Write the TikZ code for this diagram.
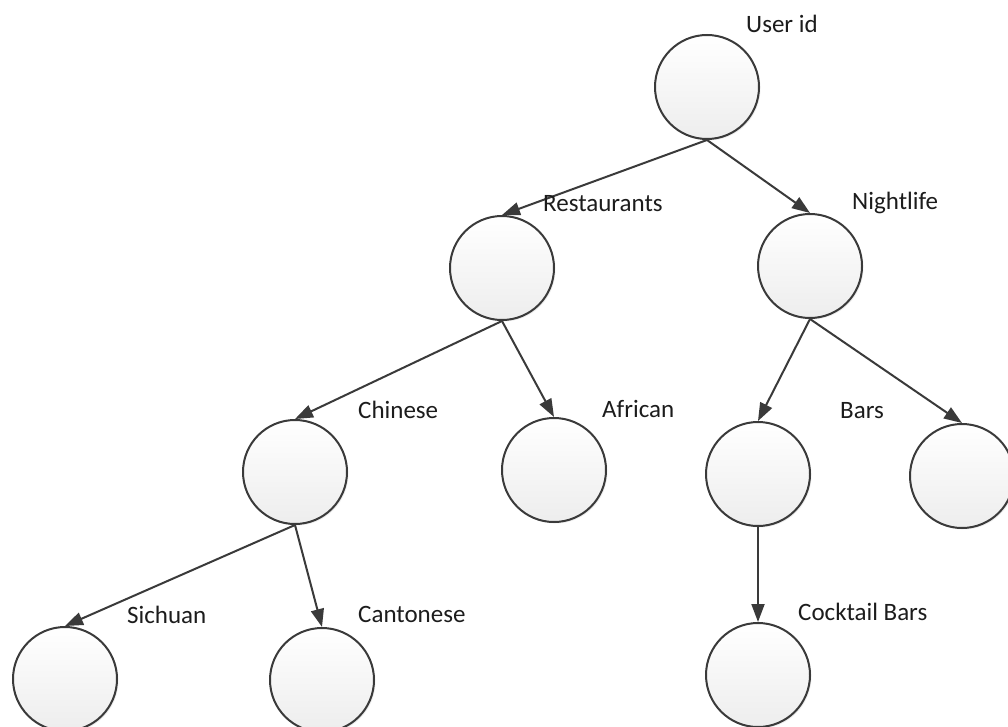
\documentclass[tikz,border=0pt]{standalone}
\usepackage{fontspec}
\setmainfont{Carlito}
\usetikzlibrary{arrows.meta,shadows}
\definecolor{lc}{HTML}{3A3A3A}
\definecolor{tc}{HTML}{1C1C1C}
\begin{document}
\begin{tikzpicture}[x=1pt,y=-1pt,
  nd/.style={circle,minimum size=104pt,inner sep=0pt,draw=lc,line width=2pt,top color=white,bottom color=gray!14,drop shadow={shadow xshift=1.5pt,shadow yshift=-1.5pt,opacity=0.15}},
  lbl/.style={anchor=base west,inner sep=0pt,font=\fontsize{25}{28}\selectfont,text=tc},
  ar/.style={draw=lc,line width=2pt,-{Triangle[length=18pt,width=13pt]}}]
\useasboundingbox (0,0) rectangle (1008,727);
\node[nd] (U) at (707,87) {};
\node[nd] (R) at (502,268) {};
\node[nd] (N) at (810,266) {};
\node[nd] (C) at (295,472) {};
\node[nd] (A) at (554,470) {};
\node[nd] (B) at (758,474) {};
\node[nd] (X) at (962,476) {};
\node[nd] (S) at (65,679) {};
\node[nd] (Ca) at (322,680) {};
\node[nd] (CB) at (758,675) {};
\draw[ar] (U.south) -- (R.north);
\draw[ar] (U.south) -- (N.north);
\draw[ar] (R.south) -- (C.north);
\draw[ar] (R.south) -- (A.north);
\draw[ar] (N.south) -- (B.north);
\draw[ar] (N.south) -- (X.north);
\draw[ar] (C.south) -- (S.north);
\draw[ar] (C.south) -- (Ca.north);
\draw[ar] (B.south) -- (CB.north);
\node[lbl] (lU) at (746,33) {User id};
\node[lbl] (lR) at (543,212) {Restaurants};
\node[lbl] (lN) at (852,210) {Nightlife};
\node[lbl] (lC) at (358,418) {Chinese};
\node[lbl] (lA) at (602,417) {African};
\node[lbl] (lB) at (840,418) {Bars};
\node[lbl] (lS) at (127,623) {Sichuan};
\node[lbl] (lCa) at (358,622) {Cantonese};
\node[lbl] (lCB) at (798,620) {Cocktail Bars};
\end{tikzpicture}
\end{document}
